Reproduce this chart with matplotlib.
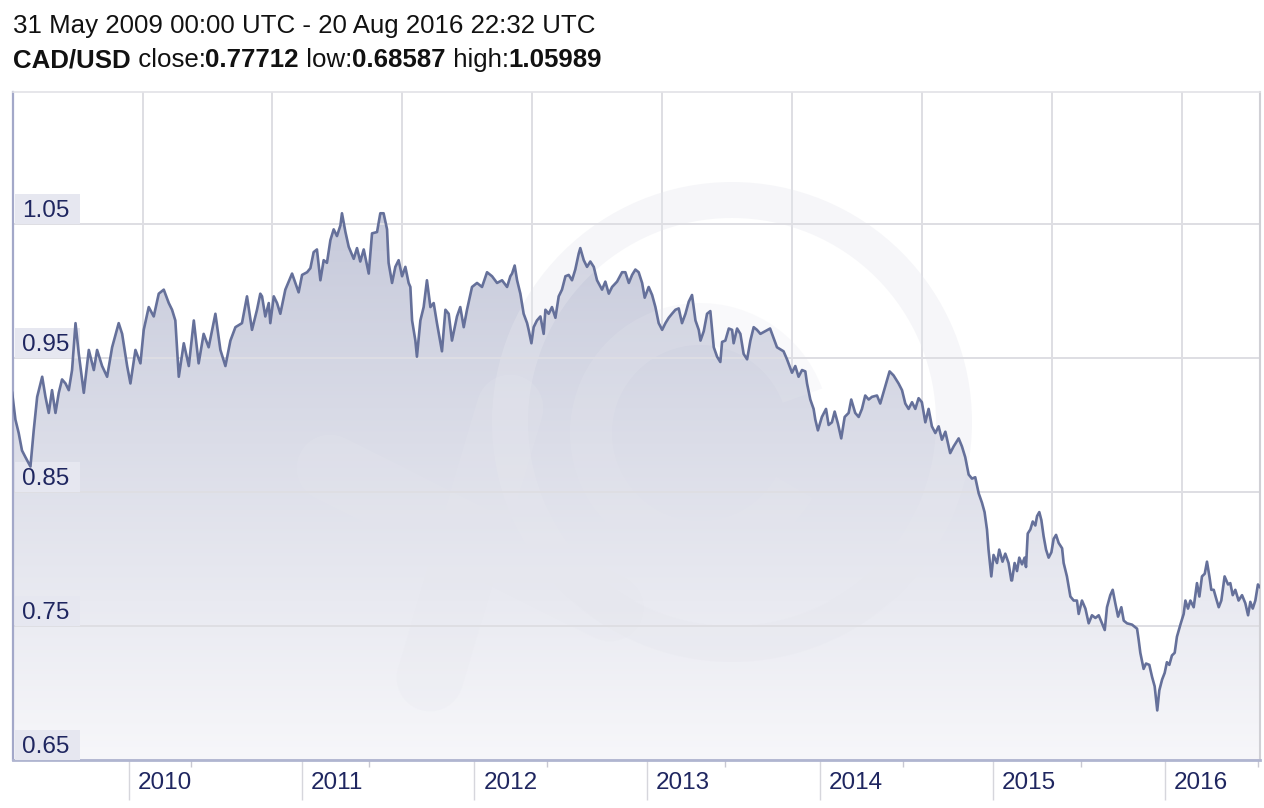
import numpy as np
import matplotlib.pyplot as plt
from matplotlib.colors import LinearSegmentedColormap
from matplotlib.patches import Rectangle, Annulus, Wedge
from matplotlib.transforms import blended_transform_factory, ScaledTranslation

plt.rcParams["font.family"] = ["Liberation Sans", "DejaVu Sans"]

period = "31 May 2009 00:00 UTC - 20 Aug 2016 22:32 UTC"
pair = "CAD/USD"
close_rate = "0.77712"
low_rate = "0.68587"
high_rate = "1.05989"

# decimal year, CAD/USD rate
years = [
    2009.323, 2009.342, 2009.361, 2009.380, 2009.400, 2009.429, 2009.448, 2009.468, 2009.497, 2009.516,
    2009.535, 2009.554, 2009.574, 2009.593, 2009.612, 2009.632, 2009.651, 2009.670, 2009.690, 2009.709,
    2009.738, 2009.767, 2009.796, 2009.815, 2009.844, 2009.873, 2009.902, 2009.940, 2009.960, 2009.989,
    2010.008, 2010.037, 2010.066, 2010.085, 2010.114, 2010.143, 2010.172, 2010.201, 2010.230, 2010.249,
    2010.268, 2010.288, 2010.317, 2010.346, 2010.375, 2010.403, 2010.432, 2010.461, 2010.500, 2010.529,
    2010.558, 2010.587, 2010.616, 2010.654, 2010.683, 2010.712, 2010.741, 2010.760,
    2010.770, 2010.789, 2010.809, 2010.818, 2010.838, 2010.857, 2010.876, 2010.905, 2010.944, 2010.963,
    2010.982, 2011.002, 2011.031, 2011.050, 2011.069, 2011.088, 2011.108, 2011.127, 2011.146, 2011.166,
    2011.185, 2011.204, 2011.224, 2011.233, 2011.253, 2011.272, 2011.301, 2011.320, 2011.339, 2011.359,
    2011.388, 2011.407, 2011.436, 2011.455, 2011.474, 2011.494, 2011.503, 2011.523, 2011.542, 2011.561,
    2011.581, 2011.600, 2011.619, 2011.629, 2011.639, 2011.658, 2011.667, 2011.687, 2011.706, 2011.725,
    2011.745, 2011.764, 2011.783, 2011.812, 2011.832, 2011.851, 2011.870, 2011.899, 2011.918, 2011.938,
    2011.957, 2011.986, 2012.015, 2012.044, 2012.073, 2012.102, 2012.131, 2012.160, 2012.189, 2012.208,
    2012.218, 2012.233, 2012.247, 2012.266, 2012.285, 2012.305, 2012.314, 2012.330, 2012.343, 2012.362,
    2012.382, 2012.401, 2012.411, 2012.430, 2012.449, 2012.469, 2012.488, 2012.507, 2012.527, 2012.546,
    2012.565, 2012.584, 2012.604, 2012.613, 2012.633, 2012.652, 2012.671, 2012.691, 2012.710, 2012.739,
    2012.758, 2012.778, 2012.797, 2012.826, 2012.855, 2012.874, 2012.894, 2012.913, 2012.932, 2012.951,
    2012.971, 2012.986, 2013.009, 2013.029, 2013.048, 2013.067, 2013.087, 2013.106, 2013.125, 2013.144,
    2013.164, 2013.183, 2013.202, 2013.222, 2013.241, 2013.260, 2013.280, 2013.299, 2013.309, 2013.328,
    2013.347, 2013.366, 2013.386, 2013.405, 2013.424, 2013.434, 2013.453, 2013.473, 2013.492, 2013.501,
    2013.521, 2013.540, 2013.559, 2013.579, 2013.598, 2013.617, 2013.636, 2013.656, 2013.712, 2013.752,
    2013.790, 2013.810, 2013.839, 2013.858, 2013.877, 2013.897, 2013.916, 2013.926, 2013.945, 2013.964,
    2013.974, 2013.989, 2014.012, 2014.036, 2014.051, 2014.070, 2014.086, 2014.105, 2014.124, 2014.144,
    2014.167, 2014.182, 2014.205, 2014.225, 2014.244, 2014.263, 2014.283, 2014.302, 2014.331, 2014.350,
    2014.379, 2014.404, 2014.427, 2014.456, 2014.476, 2014.495, 2014.514, 2014.534, 2014.553, 2014.572,
    2014.591, 2014.611, 2014.630, 2014.649, 2014.669, 2014.688, 2014.707, 2014.727, 2014.755, 2014.775,
    2014.804, 2014.823, 2014.842, 2014.862, 2014.881, 2014.900, 2014.920, 2014.939, 2014.954, 2014.968,
    2014.977, 2014.993, 2015.006, 2015.026, 2015.039, 2015.058, 2015.074, 2015.093, 2015.109,
    2015.113, 2015.128, 2015.142, 2015.155, 2015.171, 2015.186, 2015.194, 2015.204, 2015.219, 2015.233,
    2015.248, 2015.258, 2015.271, 2015.283, 2015.296, 2015.310, 2015.325, 2015.341, 2015.354, 2015.368,
    2015.383, 2015.403, 2015.412, 2015.431, 2015.451, 2015.470, 2015.489, 2015.499, 2015.518, 2015.538,
    2015.557, 2015.576, 2015.596, 2015.615, 2015.634, 2015.650, 2015.663, 2015.682, 2015.696, 2015.711,
    2015.727, 2015.746, 2015.760, 2015.779, 2015.808, 2015.837, 2015.846, 2015.856, 2015.875, 2015.889,
    2015.908, 2015.924, 2015.939, 2015.954, 2015.966, 2015.982, 2015.997, 2016.010, 2016.024, 2016.039,
    2016.055, 2016.068, 2016.088, 2016.107, 2016.117, 2016.132, 2016.146, 2016.165, 2016.184, 2016.198,
    2016.213, 2016.229, 2016.242, 2016.256, 2016.267, 2016.281, 2016.294, 2016.310, 2016.325, 2016.344,
    2016.364, 2016.377, 2016.391, 2016.406, 2016.425, 2016.445, 2016.464, 2016.480, 2016.493, 2016.507,
    2016.522, 2016.537, 2016.549,
]
rates = [
    0.924, 0.904, 0.894, 0.881, 0.876, 0.869, 0.896, 0.921, 0.936, 0.921,
    0.909, 0.926, 0.909, 0.924, 0.934, 0.931, 0.926, 0.941, 0.976, 0.953,
    0.924, 0.956, 0.941, 0.956, 0.944, 0.936, 0.958, 0.976, 0.968, 0.944,
    0.931, 0.956, 0.946, 0.971, 0.988, 0.981, 0.998, 1.001, 0.991, 0.986,
    0.978, 0.936, 0.961, 0.944, 0.978, 0.946, 0.968, 0.958, 0.983, 0.956,
    0.944, 0.963, 0.973, 0.976, 0.996, 0.971, 0.986, 0.998,
    0.996, 0.981, 0.991, 0.976, 0.996, 0.991, 0.983, 1.001, 1.013, 1.006,
    0.999, 1.012, 1.014, 1.017, 1.029, 1.031, 1.008, 1.023, 1.021, 1.038,
    1.046, 1.041, 1.049, 1.058, 1.044, 1.033, 1.024, 1.032, 1.022, 1.031,
    1.013, 1.043, 1.044, 1.058, 1.058, 1.046, 1.021, 1.006, 1.018, 1.023,
    1.011, 1.018, 1.006, 1.003, 0.978, 0.963, 0.951, 0.978, 0.988, 1.008,
    0.988, 0.991, 0.976, 0.955, 0.986, 0.983, 0.963, 0.981, 0.988, 0.973,
    0.986, 1.003, 1.006, 1.003, 1.014, 1.011, 1.006, 1.008, 1.003, 1.011,
    1.013, 1.019, 1.008, 0.998, 0.983, 0.976, 0.971, 0.961, 0.973, 0.978,
    0.981, 0.968, 0.986, 0.983, 0.988, 0.980, 0.996, 1.001, 1.011, 1.012,
    1.008, 1.016, 1.028, 1.032, 1.023, 1.018, 1.022, 1.018, 1.008, 1.001,
    1.007, 0.998, 1.003, 1.007, 1.014, 1.014, 1.006, 1.012, 1.016, 1.014,
    1.006, 0.995, 1.003, 0.997, 0.988, 0.976, 0.971, 0.976, 0.980, 0.983,
    0.986, 0.987, 0.976, 0.983, 0.992, 0.997, 0.978, 0.971, 0.963, 0.970,
    0.983, 0.985, 0.958, 0.951, 0.947, 0.962, 0.963, 0.972, 0.971, 0.961,
    0.972, 0.968, 0.953, 0.949, 0.963, 0.973, 0.971, 0.968, 0.972, 0.958,
    0.955, 0.949, 0.939, 0.944, 0.936, 0.941, 0.940, 0.931, 0.919, 0.912,
    0.904, 0.896, 0.906, 0.912, 0.900, 0.902, 0.910, 0.901, 0.890, 0.906,
    0.909, 0.919, 0.909, 0.906, 0.912, 0.922, 0.919, 0.921, 0.922, 0.916,
    0.929, 0.940, 0.937, 0.931, 0.926, 0.916, 0.912, 0.917, 0.912, 0.920,
    0.917, 0.902, 0.912, 0.899, 0.894, 0.899, 0.889, 0.895, 0.879, 0.884,
    0.890, 0.884, 0.876, 0.863, 0.860, 0.861, 0.849, 0.842, 0.835, 0.822,
    0.807, 0.787, 0.803, 0.797, 0.807, 0.798, 0.804, 0.797, 0.784,
    0.784, 0.797, 0.791, 0.801, 0.796, 0.801, 0.794, 0.819, 0.822, 0.828,
    0.825, 0.832, 0.835, 0.829, 0.817, 0.807, 0.801, 0.805, 0.815, 0.818,
    0.812, 0.808, 0.797, 0.787, 0.772, 0.769, 0.769, 0.759, 0.769, 0.763,
    0.752, 0.758, 0.756, 0.758, 0.752, 0.747, 0.764, 0.773, 0.777, 0.767,
    0.757, 0.764, 0.754, 0.752, 0.751, 0.748, 0.740, 0.730, 0.718, 0.722,
    0.721, 0.712, 0.705, 0.687, 0.702, 0.710, 0.715, 0.723, 0.721, 0.728,
    0.730, 0.742, 0.751, 0.759, 0.769, 0.763, 0.769, 0.764, 0.782, 0.772,
    0.787, 0.789, 0.798, 0.787, 0.777, 0.777, 0.771, 0.764, 0.769, 0.787,
    0.781, 0.782, 0.773, 0.777, 0.769, 0.773, 0.767, 0.758, 0.768, 0.763,
    0.769, 0.781, 0.779,
]

y_ticks = [0.65, 0.75, 0.85, 0.95, 1.05]
y_labels = ["0.65", "0.75", "0.85", "0.95", "1.05"]
year_ticks = [2010, 2011, 2012, 2013, 2014, 2015, 2016]
minor_ticks = [2010.36, 2011.39, 2012.42, 2013.45, 2014.48, 2015.51, 2016.54]
grid_x = [2010.081, 2010.828, 2011.581, 2012.333, 2013.086, 2013.839, 2014.592, 2015.344, 2016.097]

x_min, x_max = 2009.328, 2016.549
y_min, y_max = 0.65, 1.1485

navy = "#1f2660"

fig = plt.figure(figsize=(12.64, 8.08), dpi=100)
ax = fig.add_axes([13 / 1264, 48 / 808, 1247 / 1264, 668 / 808])

# gradient fill under the line
cmap = LinearSegmentedColormap.from_list("fill", ["#f7f7fa", "#bcc0d4"])
fill = ax.fill_between(years, rates, y_min, color="none", lw=0)
grad = np.linspace(0, 1, 256).reshape(-1, 1)
img = ax.imshow(grad, extent=[x_min, x_max, y_min, y_max], origin="lower",
                aspect="auto", cmap=cmap, zorder=1)
img.set_clip_path(fill.get_paths()[0], transform=ax.transData)

# faint watermark
inch = fig.dpi_scale_trans
wm_color = "#e6e7ee"
ax.add_patch(Annulus((7.32, 3.86), 2.40, 0.36, transform=inch,
                     facecolor=wm_color, edgecolor="none", alpha=0.35, zorder=1.5))
ax.add_patch(Wedge((7.0, 3.75), 1.30, 20, 330, width=0.42, transform=inch,
                   facecolor=wm_color, edgecolor="none", alpha=0.22, zorder=1.5))
ax.plot([3.3, 6.1], [3.4, 2.0], transform=inch, color=wm_color, alpha=0.22,
        lw=48, solid_capstyle="round", zorder=1.5)
ax.plot([5.1, 4.3], [4.0, 1.3], transform=inch, color=wm_color, alpha=0.22,
        lw=48, solid_capstyle="round", zorder=1.5)

# grid
for g in grid_x:
    ax.axvline(g, color="#dedee3", lw=1.4, zorder=0.5)
for v in y_ticks:
    ax.axhline(v, color="#dedee3", lw=1.4, zorder=2)

ax.plot(years, rates, color="#65709a", lw=1.9, zorder=4)

# y labels in boxes inside the plot
bt = blended_transform_factory(ax.transAxes, ax.transData)
for v, lab in zip(y_ticks, y_labels):
    ax.add_patch(Rectangle((0.0016, v), 0.052, 30 / 1340, transform=bt,
                           facecolor="#e6e7f0", edgecolor="none", zorder=3))
    ax.text(0.0075, v + 7 / 1340, lab, transform=bt, fontsize=17.5, color=navy,
            va="baseline", ha="left", zorder=5)

ax.set_xlim(x_min, x_max)
ax.set_ylim(y_min, y_max)
ax.set_yticks([])

ax.set_xticks(year_ticks)
ax.set_xticklabels([])
ax.set_xticks(minor_ticks, minor=True)
ax.tick_params(axis="x", which="major", length=29, width=1, color="#d6d6dc", direction="out")
ax.tick_params(axis="x", which="minor", length=5, width=1, color="#c8c8d2", direction="out")

xt = blended_transform_factory(ax.transData, ax.transAxes)
for yr in year_ticks:
    ax.text(yr, 0, str(yr), transform=xt + ScaledTranslation(9 / 100, -12 / 100, inch),
            fontsize=17.5, color=navy, ha="left", va="top")

ax.spines["left"].set_color("#a3a8c9")
ax.spines["left"].set_linewidth(1.6)
ax.spines["bottom"].set_color("#b0b5d0")
ax.spines["bottom"].set_linewidth(2)
ax.spines["top"].set_color("#e2e2e6")
ax.spines["top"].set_linewidth(1.2)
ax.spines["right"].set_color("#d0d0d5")
ax.spines["right"].set_linewidth(1.5)

# header
fig.text(13 / 1264, 1 - 33 / 808, period, fontsize=18.6, color="#111111", va="baseline")

pieces = [
    (pair, "bold"), (" close:", "normal"), (close_rate, "bold"),
    (" low:", "normal"), (low_rate, "bold"), (" high:", "normal"), (high_rate, "bold"),
]
renderer = fig.canvas.get_renderer()
x_pos = 13 / 1264
for s, w in pieces:
    t = fig.text(x_pos, 1 - 67 / 808, s, fontsize=18.6, fontweight=w,
                 color="#111111", va="baseline")
    bb = t.get_window_extent(renderer)
    x_pos = bb.x1 / fig.bbox.width

fig.savefig("out.png", dpi=100)
